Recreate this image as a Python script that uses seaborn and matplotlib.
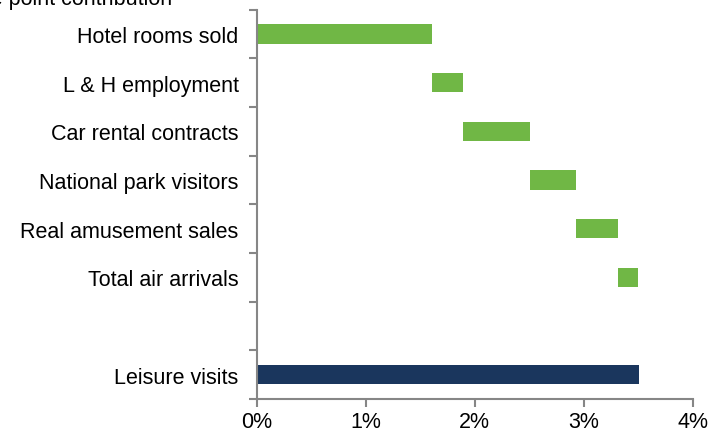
"""Waterfall de contribuciones a visitas de ocio."""

import matplotlib

matplotlib.use("Agg")

import matplotlib.pyplot as plt
import numpy as np
import pandas as pd
import seaborn as sns


categories = [
    "Hotel rooms sold",
    "L & H employment",
    "Car rental contracts",
    "National park visitors",
    "Real amusement sales",
    "Total air arrivals",
    " ",
    "Leisure visits",
]
# contribuciones en puntos porcentuales (lectura del grafico)
contributions = [1.61, 0.28, 0.62, 0.42, 0.38, 0.19]
total = 3.51
x_ticks = [0, 1, 2, 3, 4]
x_tick_labels = ["0%", "1%", "2%", "3%", "4%"]

GREEN = "#70b745"
NAVY = "#1a365d"
GRAY = "#868686"

ends = list(np.cumsum(contributions)) + [np.nan, total]
starts = list(np.cumsum([0] + contributions[:-1])) + [np.nan, 0.0]
df = pd.DataFrame({"category": categories, "start": starts, "end": ends})
colors = {c: GREEN for c in categories}
colors["Leisure visits"] = NAVY

sns.set_style("white")
plt.rcParams["font.family"] = ["Liberation Sans", "DejaVu Sans"]
plt.rcParams["text.color"] = "black"
plt.rcParams["xtick.labelcolor"] = "black"
plt.rcParams["ytick.labelcolor"] = "black"

fig = plt.figure(figsize=(7.11, 4.35), dpi=100)
ax = fig.add_axes([0.361, 0.0805, 0.6133, 0.895])

sns.barplot(data=df, x="end", y="category", hue="category", order=categories,
            palette=colors, saturation=1, legend=False, width=0.4, linewidth=0, ax=ax)
# tapa blanca para el tramo inicial de cada escalon
sns.barplot(data=df.iloc[:6], x="start", y="category", order=categories,
            color="white", saturation=1, width=0.42, linewidth=0, ax=ax)

ax.set_xlim(0, 4)
ax.set_ylim(7.5, -0.5)
ax.set_xticks(x_ticks)
ax.set_xticklabels(x_tick_labels)
ax.set_yticks(np.arange(-0.5, 8, 1), minor=True)
ax.set_xlabel("")
ax.set_ylabel("")
ax.tick_params(axis="y", which="major", length=0, labelsize=15.5, pad=13, labelcolor="black")
ax.tick_params(axis="y", which="minor", length=6, width=1.5, color=GRAY, direction="out", left=True)
ax.tick_params(axis="x", length=6, width=1.5, color=GRAY, direction="out", labelsize=15.5, pad=3,
               bottom=True, labelcolor="black")
for side in ["top", "right"]:
    ax.spines[side].set_visible(False)
for side in ["left", "bottom"]:
    ax.spines[side].set_color(GRAY)
    ax.spines[side].set_linewidth(1.5)

fig.text(172 / 711, 1 - 5 / 435, "Percentage point contribution", ha="right", va="baseline",
         fontsize=15.5, color="black")

fig.savefig("out.png", dpi=100)
plt.close(fig)
